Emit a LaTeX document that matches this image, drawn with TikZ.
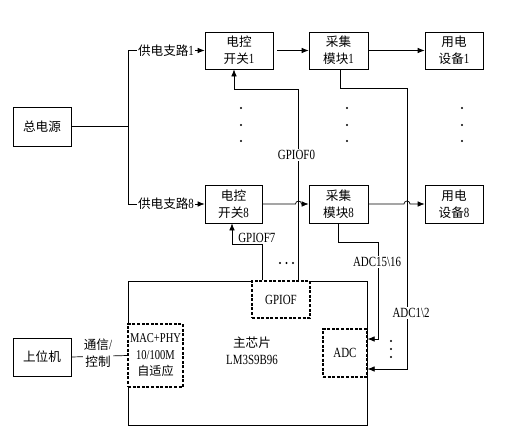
\documentclass[tikz,border=0pt]{standalone}
\usepackage{fontspec}
\setmainfont{Liberation Serif}[FakeStretch=0.78]
\newfontfamily\cjk[Scale=0.9]{Noto Sans CJK SC}
\usetikzlibrary{arrows.meta}
\newcommand{\zh}[1]{{\cjk #1}}
\begin{document}
\begin{tikzpicture}[x=1pt,y=-1pt,
  line width=0.7pt,
  every node/.style={font=\fontsize{14}{17}\selectfont},
  box/.style={draw, inner sep=0pt, align=center},
  dbox/.style={draw, fill=white, inner sep=0pt, align=center, line width=1.2pt, dash pattern=on 3pt off 1.6pt},
  lbl/.style={fill=white, inner sep=1pt, align=center},
  txt/.style={inner sep=0pt, align=center},
  arr/.style={-{Latex[length=7pt,width=5.5pt]}},
  dotm/.style={fill=black, draw=none, circle, inner sep=0pt, minimum size=2.4pt}
]
\useasboundingbox[fill=white] (0,0) rectangle (514,440);

% boxes
\node[box, minimum width=58pt, minimum height=39pt] (zdy) at (42,126.5) {\zh{总电源}};
\node[box, minimum width=68pt, minimum height=37pt] (sw1) at (239,50.5) {\zh{电控}\\\zh{开关}1};
\node[box, minimum width=57pt, minimum height=38pt] (sw8) at (233.5,204) {\zh{电控}\\\zh{开关}8};
\node[box, minimum width=59pt, minimum height=37pt] (col1) at (338.5,50.5) {\zh{采集}\\\zh{模块}1};
\node[box, minimum width=59pt, minimum height=38pt] (col8) at (338.5,204) {\zh{采集}\\\zh{模块}8};
\node[box, minimum width=58pt, minimum height=37pt] (dev1) at (454,50.5) {\zh{用电}\\\zh{设备}1};
\node[box, minimum width=58pt, minimum height=38pt] (dev8) at (454,204) {\zh{用电}\\\zh{设备}8};
\node[box, minimum width=58pt, minimum height=38pt] (pc) at (42,357) {\zh{上位机}};

\node[box, minimum width=239pt, minimum height=144pt] (main) at (247.5,353) {};
\node[txt] (mainlbl) at (252,351) {\zh{主芯片}\\LM3S9B96};
\node[dbox, minimum width=58pt, minimum height=37pt] (gpiof) at (281,299.5) {GPIOF};
\node[dbox, minimum width=44pt, minimum height=48pt] (adc) at (345,353) {ADC};
\node[dbox, minimum width=55pt, minimum height=63pt, font=\fontsize{13.5}{16.5}\selectfont] (mac) at (155.5,355.5) {MAC+PHY\\10/100M\\\zh{自适应}};

% power branches
\coordinate (bt) at (128,50.5);
\coordinate (bb) at (128,204);
\draw (zdy.east) -- (zdy.east -| bt);
\draw (bt) -- (bb);
\draw[arr] (bt) -- (sw1.west);
\draw[arr] (bb) -- (sw8.west);
\node[lbl] (l1) at (166,50.5) {\zh{供电支路}1};
\node[lbl] (l8) at (166,204) {\zh{供电支路}8};

% top row
\draw[arr, shorten <=4pt] (sw1.east) -- (col1.west);
\draw[arr] (col1.east) -- (dev1.west);

% GPIOF0 control line
\coordinate (k1) at (234,89);
\draw[arr] ([xshift=17.5pt]gpiof.north) |- (k1) -- (k1 |- sw1.south);
\node[lbl] (g0) at (296.5,155) {GPIOF0};

% GPIOF7 control line
\coordinate (k7) at (232,244);
\draw[arr] ([xshift=-19pt]gpiof.north) |- (k7) -- (k7 |- sw8.south);
\node[txt, anchor=base west] (g7) at (238,242) {GPIOF7};

% bottom row with jumps
\coordinate (j1) at (295.5,204);
\coordinate (j2) at (404,204);
\draw[arr] (sw8.east) -- (j1) arc[start angle=180, end angle=0, radius=3pt] -- (col8.west);
\draw[arr] (col8.east) -- (j2) arc[start angle=180, end angle=0, radius=3pt] -- (dev8.west);

% ADC lines
\coordinate (a16) at (378,242);
\draw[arr] (col8.south) |- (a16) |- ([yshift=14pt]adc.east);
\node[lbl] (la16) at (377,262) {ADC15\textbackslash16};
\coordinate (a2) at (407,88);
\draw[arr] ([xshift=2pt]col1.south) |- (a2) |- ([yshift=-16pt]adc.east);
\node[lbl] (la2) at (411,313) {ADC1\textbackslash2};

% host link
\draw (pc.east) -- (mac.west);
\node[lbl] (comm) at (98,353) {\zh{通信}/\\\zh{控制}};

% dots
\foreach \x in {241,347,462}{
  \foreach \y in {108,125,141}{
    \node[dotm] at (\x,\y) {};
  }
}
\foreach \y in {341,349,357}{ \node[dotm] at (391,\y) {}; }
\foreach \x in {280,286.5,293}{ \node[dotm] at (\x,263) {}; }
\end{tikzpicture}
\end{document}
